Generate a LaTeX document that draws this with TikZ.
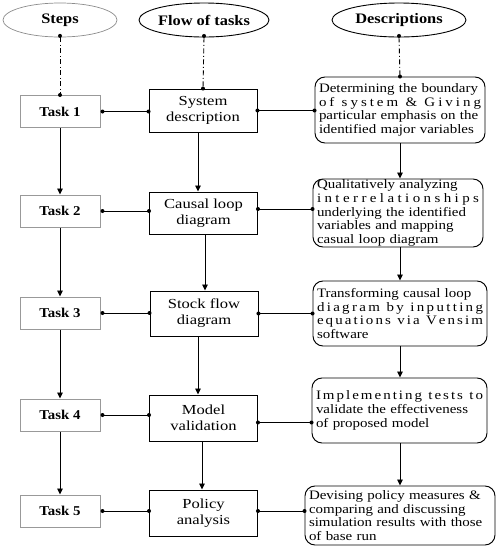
\documentclass[tikz,border=0pt]{standalone}
\usepackage{fontspec}
\setmainfont{Liberation Serif}
\newfontfamily\descfont[FakeStretch=1.16]{Liberation Serif}
\newfontfamily\flowfont[FakeStretch=1.2]{Liberation Serif}
\newfontfamily\taskfont[FakeStretch=1.1]{Liberation Serif}
\newfontfamily\headfont[FakeStretch=1.13]{Liberation Serif}
\usetikzlibrary{arrows.meta,shapes.geometric,calc}
\newcommand\lsg{\hfil}
\newcommand\jl[1]{\makebox[\linewidth][s]{#1}}
\tikzset{
  head/.style={ellipse,draw,line width=0.9pt,inner sep=0pt,minimum width=116pt,minimum height=34pt,
    font=\headfont\bfseries\fontsize{14.5}{16}\selectfont},
  taskbox/.style={rectangle,draw=black!40,line width=1pt,minimum width=80pt,minimum height=32pt,inner sep=0pt,
    font=\taskfont\bfseries\fontsize{13.5}{16}\selectfont},
  flowbox/.style={rectangle,draw,line width=0.95pt,minimum width=108pt,inner sep=0pt,align=center,
    font=\flowfont\fontsize{13.8}{16}\selectfont},
  descbox/.style={rectangle,draw,rounded corners=10pt,line width=0.95pt,inner xsep=4pt,inner ysep=0pt,align=left,
    font=\descfont\fontsize{12.9}{13.7}\selectfont},
  arr/.style={line width=0.9pt,-{Triangle[length=6pt,width=5.5pt]}},
  conn/.style={line width=0.9pt},
  dashdot/.style={line width=0.9pt,dash pattern=on 5pt off 2.5pt on 1pt off 2.5pt},
  dotc/.style={circle,fill,inner sep=0pt,minimum size=4pt},
}
\begin{document}
\begin{tikzpicture}[x=1pt,y=-1pt]
\useasboundingbox (0,0) rectangle (497,550);
% headers
\node[head,draw=black!45,line width=0.7pt,minimum width=114pt] (e1) at (60,20) {Steps};
\node[head,minimum width=124pt] (e2) at (204,20) {Flow of tasks};
\node[head,minimum width=134pt] (e3) at (399,20) {Descriptions};
% tasks
\node[taskbox] (t1) at (60,111.5) {Task 1};
\node[taskbox] (t2) at (60,211) {Task 2};
\node[taskbox] (t3) at (60,313) {Task 3};
\node[taskbox] (t4) at (60,415) {Task 4};
\node[taskbox] (t5) at (60,511) {Task 5};
% flow
\node[flowbox,minimum height=43pt] (f1) at (203,110.5) {System\\description};
\node[flowbox,minimum height=42pt] (f2) at (203.5,213) {Causal loop\\diagram};
\node[flowbox,minimum height=45pt] (f3) at (204,313.5) {Stock flow\\diagram};
\node[flowbox,minimum height=46pt] (f4) at (203.5,418) {Model\\validation};
\node[flowbox,minimum height=46pt] (f5) at (203.5,513) {Policy\\analysis};
% descriptions
\node[descbox,text width=162pt,minimum height=66pt] (d1) at (400,110) {%
\jl{Determining the boundary}\\
\makebox[\linewidth][s]{o\lsg f \lsg s\lsg y\lsg s\lsg t\lsg e\lsg m \lsg \& \lsg G\lsg i\lsg v\lsg i\lsg n\lsg g}\\
\jl{particular emphasis on the}\\
identified major variables};
\node[descbox,text width=162pt,minimum height=68pt] (d2) at (398,213) {%
\jl{Qualitatively analyzing}\\
\makebox[\linewidth][s]{i\lsg n\lsg t\lsg e\lsg r\lsg r\lsg e\lsg l\lsg a\lsg t\lsg i\lsg o\lsg n\lsg s\lsg h\lsg i\lsg p\lsg s}\\
\jl{underlying the identified}\\
\jl{variables and mapping}\\
casual loop diagram};
\node[descbox,text width=166pt,minimum height=65pt] (d3) at (400,313.5) {%
\jl{Transforming causal loop}\\
\makebox[\linewidth][s]{d\lsg i\lsg a\lsg g\lsg r\lsg a\lsg m \lsg b\lsg y \lsg i\lsg n\lsg p\lsg u\lsg t\lsg t\lsg i\lsg n\lsg g}\\
\makebox[\linewidth][s]{e\lsg q\lsg u\lsg a\lsg t\lsg i\lsg o\lsg n\lsg s \lsg v\lsg i\lsg a \lsg V\lsg e\lsg n\lsg s\lsg i\lsg m}\\
software};
\node[descbox,text width=167pt,minimum height=65pt] (d4) at (399.5,410.5) {%
\makebox[\linewidth][s]{I\lsg m\lsg p\lsg l\lsg e\lsg m\lsg e\lsg n\lsg t\lsg i\lsg n\lsg g \lsg t\lsg e\lsg s\lsg t\lsg s \lsg t\lsg o}\\
\jl{validate the effectiveness}\\
of proposed model};
\node[descbox,text width=182pt,minimum height=59pt] (d5) at (400,515.5) {%
\jl{Devising policy measures \&}\\
\jl{comparing and discussing}\\
\jl{simulation results with those}\\
of base run};
% dash-dot header links
\foreach \e/\b in {e1/t1,e2/f1,e3/d1}{
  \draw[dashdot] (\e.south) -- (\b.north);
  \node[dotc] at ([yshift=1.5pt]\e.south) {};
  \node[dotc] at (\b.north) {};
}
% task arrows
\foreach \a/\b in {t1/t2,t2/t3,t3/t4,t4/t5}{
  \draw[arr] (\a.south) -- (\b.north);
}
% flow arrows
\draw[arr] ([xshift=-5pt]f1.south) -- ([xshift=-5pt]f1.south |- f2.north);
\draw[arr] ([xshift=1.5pt]f2.south) -- ([xshift=1.5pt]f2.south |- f3.north);
\draw[arr] ([xshift=-6pt]f3.south) -- ([xshift=-6pt]f3.south |- f4.north);
\draw[arr] ([xshift=-1.5pt]f4.south) -- ([xshift=-1.5pt]f4.south |- f5.north);
% description arrows
\draw[arr] (d1.south) -- (d1.south |- d2.north);
\draw[arr] ([xshift=2pt]d2.south) -- ([xshift=2pt]d2.south |- d3.north);
\draw[arr] (d3.south) -- (d3.south |- d4.north);
\draw[arr] ([xshift=0.5pt]d4.south) -- ([xshift=0.5pt]d4.south |- d5.north);
% horizontal links task -> flow
\foreach \a/\b in {t1/f1,t2/f2,t3/f3,t4/f4,t5/f5}{
  \draw[conn] (\a.east) -- (\a.east -| \b.west);
  \node[dotc] at ([xshift=2pt]\a.east) {};
  \node[dotc] at (\a.east -| \b.west) {};
}
% flow -> description
\foreach \a/\b/\s in {f1/d1/0,f2/d2/4,f3/d3/0,f4/d4/-4.5,f5/d5/2}{
  \draw[conn] ([yshift=\s pt]\a.east) -- ([yshift=\s pt]\a.east -| \b.west);
  \node[dotc] at ([yshift=\s pt]\a.east) {};
  \node[dotc] at ([yshift=\s pt]\a.east -| \b.west) {};
}
\end{tikzpicture}
\end{document}
